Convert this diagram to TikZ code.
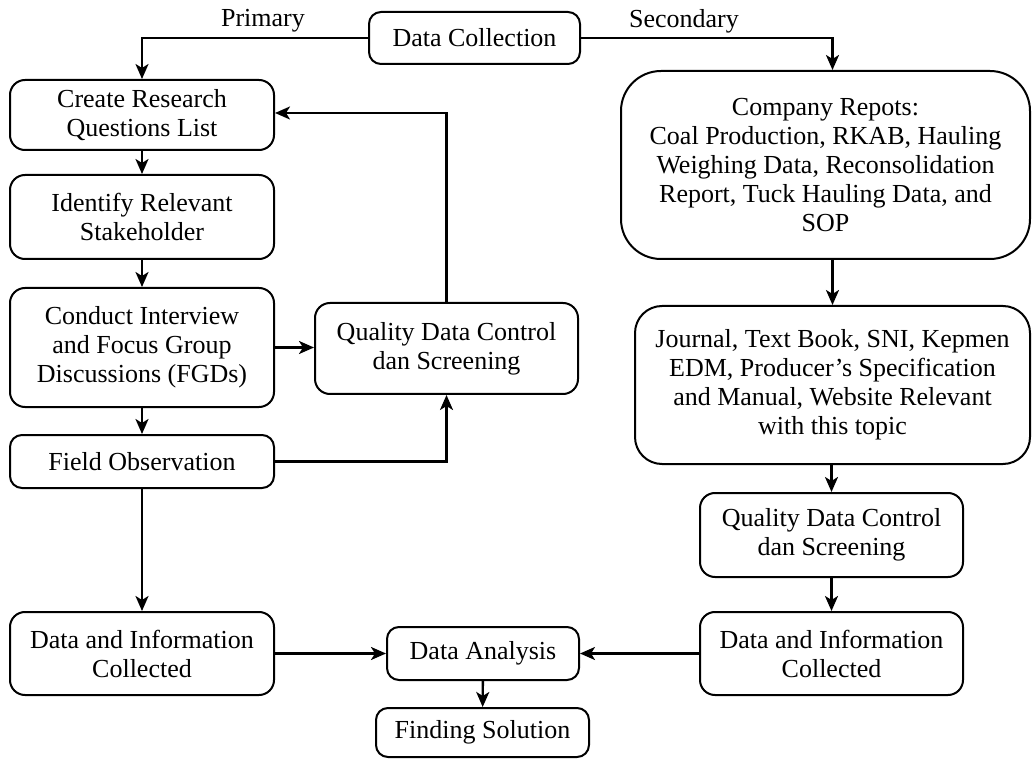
\documentclass[tikz,border=0pt]{standalone}
\usepackage{fontspec}
\setmainfont{Liberation Serif}
\usetikzlibrary{arrows.meta,positioning}
\begin{document}
\begin{tikzpicture}[x=1pt,y=-1pt,
  box/.style={draw, line width=2pt, rounded corners=#1, align=center,
    inner sep=0pt, font=\fontsize{26}{29}\selectfont},
  box/.default=15pt,
  arr/.style={line width=2.4pt, -{Stealth[length=15pt,width=13pt,inset=4pt]}},
  seg/.style={line width=2.4pt},
  lbl/.style={font=\fontsize{26}{29}\selectfont, inner sep=0pt}]
\useasboundingbox (0,0) rectangle (1034,759);

% source node
\node[box=12pt, minimum width=211pt, minimum height=52pt] (dc) at (474.5,38) {Data Collection};

% primary branch
\node[box, minimum width=264pt, minimum height=70pt] (q1) at (142,115) {Create Research\\Questions List};
\node[box, minimum width=264pt, minimum height=84pt] (q2) at (142,217) {Identify Relevant\\Stakeholder};
\node[box, minimum width=264pt, minimum height=119pt] (q3) at (142,347.5) {Conduct Interview\\and Focus Group\\Discussions (FGDs)};
\node[box=12pt, minimum width=264pt, minimum height=53pt] (q4) at (142,461.5) {Field Observation};
\node[box, minimum width=263pt, minimum height=91pt] (qc1) at (446.5,348.5) {Quality Data Control\\dan Screening};
\node[box, minimum width=264pt, minimum height=83pt] (di1) at (142,653.5) {Data and Information\\Collected};

% secondary branch
\node[box=40pt, minimum width=409pt, minimum height=188pt] (cr) at (825.5,165) {Company Repots:\\Coal Production, RKAB, Hauling\\Weighing Data, Reconsolidation\\Report, Tuck Hauling Data, and\\SOP};
\node[box=27pt, minimum width=395pt, minimum height=158pt] (jr) at (832.5,385) {Journal, Text Book, SNI, Kepmen\\EDM, Producer’s Specification\\and Manual, Website Relevant\\with this topic};
\node[box, minimum width=263pt, minimum height=84pt] (qc2) at (831.5,535) {Quality Data Control\\dan Screening};
\node[box, minimum width=263pt, minimum height=83pt] (di2) at (831.5,653.5) {Data and Information\\Collected};

% analysis
\node[box=12pt, minimum width=192pt, minimum height=53pt] (da) at (483,653.5) {Data Analysis};
\node[box=12pt, minimum width=213pt, minimum height=49pt] (fs) at (482.5,732.5) {Finding Solution};

% branch labels
\node[lbl] (lp) at (263,21) {Primary};
\node[lbl] (ls) at (684,21) {Secondary};

% connectors
\draw[arr] (dc.west) -| (q1.north);
\draw[arr] (dc.east) -| (cr.north -| jr.north);
\draw[arr] (q1) -- (q2);
\draw[arr] (q2) -- (q3);
\draw[arr] (q3) -- (q4);
\draw[arr] (q4) -- (di1);
\draw[arr] (q3.east) -- (q3.east -| qc1.west);
\draw[arr] (q4.east) -| (qc1.south);
\draw[arr] (qc1.north) |- (q1.east |- 0,113);
\draw[arr] (cr.south -| jr.north) -- (jr.north);
\draw[arr] (jr.south -| qc2.north) -- (qc2.north);
\draw[arr] (qc2) -- (di2);
\draw[arr] (di1.east) -- (da.west);
\draw[arr] (di2.west) -- (da.east);
\draw[arr] (da) -- (fs);
\end{tikzpicture}
\end{document}
